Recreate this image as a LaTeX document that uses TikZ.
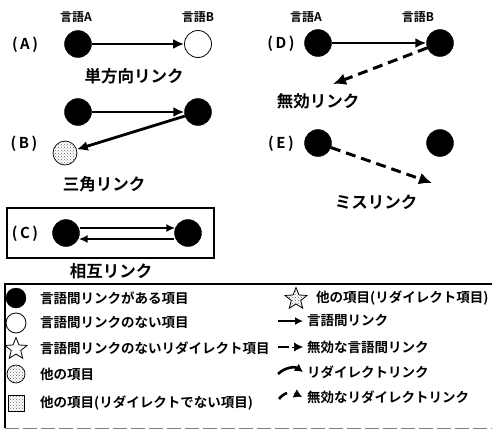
\documentclass[tikz,border=0pt]{standalone}
\usepackage{fontspec}
\setmainfont{Noto Sans CJK JP}[BoldFont={Noto Sans CJK JP Bold}]
\usetikzlibrary{shapes.geometric,patterns,arrows.meta}
\tikzset{
  full/.style={circle,fill=black,draw=black,minimum size=27pt,inner sep=0pt},
  empty/.style={circle,fill=white,draw=black,line width=0.8pt,minimum size=27pt,inner sep=0pt},
  other/.style={circle,draw=black,line width=0.7pt,fill=gray!25,pattern color=gray!80!black,minimum size=24pt,inner sep=0pt},
  lang/.style={font=\bfseries\fontsize{12}{14}\selectfont,inner sep=0pt},
  rowlbl/.style={font=\bfseries\fontsize{15}{18}\selectfont,inner sep=0pt},
  title/.style={font=\bfseries\fontsize{16.5}{19}\selectfont,inner sep=0pt},
  legtext/.style={font=\bfseries\fontsize{13.5}{16}\selectfont,inner sep=0pt,anchor=west},
  link/.style={line width=2.8pt,-{Latex[length=11pt,width=10pt]}},
  badlink/.style={line width=3pt,dash pattern=on 10pt off 6pt,-{Latex[length=13pt,width=12pt]}},
  thinlink/.style={line width=2.2pt,-{Latex[length=9pt,width=8pt]}},
}
\begin{document}
\begin{tikzpicture}[x=1pt,y=-1pt]
\useasboundingbox (0,0) rectangle (495,434);
% language labels
\node[lang] (la1) at (76,17) {言語A};
\node[lang] (lb1) at (198,17) {言語B};
\node[lang] (la2) at (306,17) {言語A};
\node[lang] (lb2) at (418,17) {言語B};
% (A)
\node[rowlbl] (lA) at (25,45) {(\,A\,)};
\node[full] (a1) at (78,44) {};
\node[empty] (a2) at (198,44) {};
\draw[link] (a1) -- (a2);
\node[title] (tA) at (134,76) {単方向リンク};
% (B)
\node[rowlbl] (lB) at (24,144) {(\,B\,)};
\node[full] (b1) at (78,112) {};
\node[full] (b2) at (198,112) {};
\node[other,pattern=crosshatch dots] (b3) at (65,153) {};
\draw[link] (b1) -- (b2);
\draw[link] (b2) -- (b3);
\node[title] (tB) at (104,184) {三角リンク};
% (C)
\draw[line width=1.8pt] (7,208) rectangle (214,258);
\node[rowlbl] (lC) at (25,234) {(\,C\,)};
\node[full] (c1) at (66,233) {};
\node[full] (c2) at (188,233) {};
\draw[thinlink] ([yshift=5pt]c1.east) -- ([yshift=5pt,xshift=1pt]c2.west);
\draw[thinlink] ([yshift=-6pt]c2.west) -- ([yshift=-6pt,xshift=-1pt]c1.east);
\node[title] (tC) at (111,271) {相互リンク};
% (D)
\node[rowlbl] (lD) at (281,44) {(\,D\,)};
\node[full] (d1) at (318,43) {};
\node[full] (d2) at (440,43) {};
\coordinate (dEnd) at (333,84);
\draw[link] (d1) -- (d2);
\draw[badlink] (d2) -- (dEnd);
\node[title] (tD) at (318,101) {無効リンク};
% (E)
\node[rowlbl] (lE) at (281,144) {(\,E\,)};
\node[full] (e1) at (318,143) {};
\node[full] (e2) at (440,143) {};
\coordinate (eEnd) at (432,183);
\draw[badlink] (e1) -- (eEnd);
\node[title] (tE) at (376,202) {ミスリンク};
% legend frame
\coordinate (fTL) at (5,284);
\coordinate (fTR) at (492,284);
\coordinate (fBL) at (5,428);
\coordinate (fBR) at (492,428);
\draw[line width=1.1pt] (fTR) -- (fTL) -- (fBL);
\draw[line width=0.8pt,gray,dash pattern=on 14pt off 4pt] (fBL) -- (fBR);
% legend left
\node[full,minimum size=20pt] (g1) at (16,298) {};
\node[legtext] (g1t) at (40,298) {言語間リンクがある項目};
\node[empty,minimum size=20pt] (g2) at (16,323) {};
\node[legtext] (g2t) at (40,323) {言語間リンクのない項目};
\node[star,star points=5,star point ratio=2.3,draw=black,line width=0.8pt,minimum size=23pt,inner sep=0pt] (g3) at (16,349) {};
\node[legtext] (g3t) at (40,348) {言語間リンクのないリダイレクト項目};
\node[other,pattern=crosshatch dots,minimum size=18pt] (g4) at (16,374) {};
\node[legtext] (g4t) at (40,374) {他の項目};
\node[rectangle,draw=black,line width=0.5pt,pattern=crosshatch dots,pattern color=gray!80!black,minimum size=16pt,inner sep=0pt] (g5) at (16,403) {};
\node[legtext] (g5t) at (40,403) {他の項目(リダイレクトでない項目)};
% legend right
\node[star,star points=5,star point ratio=2.3,draw=black,line width=0.8pt,pattern=crosshatch dots,pattern color=gray!80!black,minimum size=23pt,inner sep=0pt] (h1) at (296,299) {};
\node[legtext] (h1t) at (316,298) {他の項目(リダイレクト項目)};
\coordinate (h2s) at (278,321);
\coordinate (h2e) at (303,321);
\draw[line width=2.4pt,-{Latex[length=8pt,width=8pt]}] (h2s) -- (h2e);
\node[legtext] (h2t) at (307,321) {言語間リンク};
\coordinate (h3s) at (278,347);
\coordinate (h3m) at (289,347);
\coordinate (h3a) at (292,347);
\coordinate (h3e) at (303,347);
\draw[line width=2.4pt] (h3s) -- (h3m);
\draw[line width=0.5pt,-{Latex[length=9pt,width=9pt]}] (h3a) -- (h3e);
\node[legtext] (h3t) at (307,347) {無効な言語間リンク};
\coordinate (h4s) at (278,374);
\coordinate (h4e) at (303,372);
\draw[line width=2.6pt,-{Latex[length=8pt,width=9pt]}] (h4s) to[bend left=40] (h4e);
\node[legtext] (h4t) at (307,372) {リダイレクトリンク};
\coordinate (h5s) at (279,399);
\coordinate (h5m) at (287,393);
\coordinate (h5a) at (294,393);
\coordinate (h5e) at (302,397);
\draw[line width=2.6pt] (h5s) to[bend left=15] (h5m);
\draw[line width=0.5pt,-{Latex[length=8pt,width=9pt]}] (h5a) -- (h5e);
\node[legtext] (h5t) at (307,397) {無効なリダイレクトリンク};
\end{tikzpicture}
\end{document}
